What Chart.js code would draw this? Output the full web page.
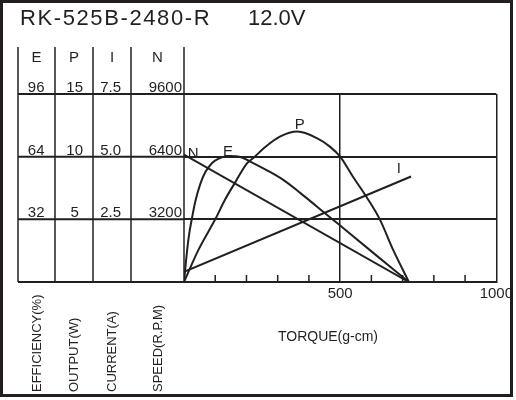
<!DOCTYPE html>
<html>
<head>
<meta charset="utf-8">
<title>RK-525B-2480-R 12.0V</title>
<script src="https://cdn.jsdelivr.net/npm/chart.js@4.4.1/dist/chart.umd.min.js"></script>
<style>
  html, body { margin: 0; padding: 0; background: #fff; }
  #wrap { position: relative; width: 516px; height: 400px; }
</style>
</head>
<body>
<div id="wrap"><canvas id="motor-chart"></canvas></div>
<script>
// Curves, torque in g-cm
const speedTorque = [0, 720];
const speedValues = [6500, 0];

const currentTorque = [0, 727];
const currentValues = [0.41, 4.21];

const outputTorque = [0, 47, 100, 132, 164, 201, 222, 264, 307, 363, 424, 467, 500, 541, 584, 627, 669, 720];
const outputValues = [0, 2.6, 5.0, 6.6, 7.95, 9.45, 9.9, 10.85, 11.6, 12.0, 11.5, 10.8, 10.0, 8.4, 6.8, 5.0, 2.6, 0];

const effTorque = [0, 6, 12, 18, 26, 36, 52, 68, 90, 111, 143, 185, 212, 266, 319, 372, 425, 478, 500, 605, 720];
const effValues = [0, 10, 19, 26, 33, 41, 50, 56, 60.8, 63, 64.3, 63.6, 61.5, 57, 52, 45.5, 38.6, 31.7, 28.8, 15, 0];

// axis ticks
const torqueTicks = [500, 1000];
const torqueMinor = [100, 200, 300, 400, 600, 700, 800, 900];
const effTicks = [0, 32, 64, 96];
const outputTicks = [0, 5, 10, 15];
const currentTicks = [0, 2.5, 5.0, 7.5];
const speedTicks = [0, 3200, 6400, 9600];

const columnHeads = ['E', 'P', 'I', 'N'];
const columnNames = ['EFFICIENCY(%)', 'OUTPUT(W)', 'CURRENT(A)', 'SPEED(R.P.M)'];

// curve labels, placed in torque / speed units
const curveLabels = [
  { text: 'N', t: 29, n: 6550 },
  { text: 'E', t: 141, n: 6660 },
  { text: 'P', t: 371, n: 8020 },
  { text: 'I', t: 688, n: 5800 }
];

const ink = '#231f20';
const family = '"Liberation Sans", Arial, sans-serif';
Chart.defaults.font.family = family;
Chart.defaults.color = ink;

function points(xs, ys) {
  return xs.map((x, i) => ({ x: x, y: ys[i] }));
}

function useTicks(list) {
  return scale => { scale.ticks = list.map(v => ({ value: v })); };
}

function yAxis(list, weight, width, pad, align, fmt) {
  return {
    type: 'linear',
    position: 'left',
    weight: weight,
    min: list[0],
    max: list[list.length - 1],
    afterBuildTicks: useTicks(list),
    afterFit: scale => { scale.width = width; },
    grid: { display: false, drawTicks: false },
    border: { display: false },
    ticks: {
      font: { size: 15 },
      color: ink,
      padding: pad,
      crossAlign: align,
      labelOffset: -6,
      autoSkip: false,
      callback: v => v === 0 ? '' : fmt(v)
    }
  };
}

function line(ctx, x1, y1, x2, y2) {
  ctx.beginPath();
  ctx.moveTo(x1, y1);
  ctx.lineTo(x2, y2);
  ctx.stroke();
}

// table, frame and captions around the plot
const sheetPlugin = {
  id: 'sheet',
  afterDraw(chart) {
    const { ctx, chartArea: area, scales } = chart;
    const cols = [scales.yE, scales.yP, scales.yI, scales.yN];
    ctx.save();
    ctx.strokeStyle = ink;
    ctx.fillStyle = ink;

    // outer frame
    ctx.lineWidth = 3;
    ctx.strokeRect(1.5, 1.5, 510, 394);

    // title
    ctx.textBaseline = 'alphabetic';
    ctx.textAlign = 'left';
    ctx.font = '22px ' + family;
    ctx.letterSpacing = '1.6px';
    ctx.fillText('RK-525B-2480-R', 20, 25);
    ctx.letterSpacing = '0px';
    ctx.fillText('12.0V', 248, 25);

    // column separators
    ctx.lineWidth = 1.5;
    const edges = [cols[0].left].concat(cols.map(s => s.right));
    edges.forEach(e => line(ctx, e, 47, e, area.bottom));

    // row lines through the table
    ctx.lineWidth = 2;
    speedTicks.forEach(v => {
      const py = scales.yN.getPixelForValue(v);
      line(ctx, cols[0].left, py, area.left, py);
    });

    // minor torque ticks
    ctx.lineWidth = 1.5;
    torqueMinor.forEach(v => {
      const px = scales.x.getPixelForValue(v);
      line(ctx, px, area.bottom, px, area.bottom - 7);
    });

    // column heads
    ctx.font = '15px ' + family;
    ctx.textAlign = 'center';
    ctx.textBaseline = 'middle';
    cols.forEach((s, i) => ctx.fillText(columnHeads[i], (s.left + s.right) / 2, 58));

    // curve labels
    curveLabels.forEach(l => {
      ctx.fillText(l.text, scales.x.getPixelForValue(l.t), scales.yN.getPixelForValue(l.n));
    });

    // torque caption
    ctx.font = '14px ' + family;
    ctx.fillText('TORQUE(g-cm)', 328, 337);

    // rotated column names
    ctx.font = '13px ' + family;
    ctx.textAlign = 'left';
    cols.forEach((s, i) => {
      ctx.save();
      ctx.translate((s.left + s.right) / 2 + 0.5, 392);
      ctx.rotate(-Math.PI / 2);
      ctx.fillText(columnNames[i], 0, 0);
      ctx.restore();
    });
    ctx.restore();
  }
};

function curve(label, xs, ys, axis, smooth) {
  return {
    label: label,
    data: points(xs, ys),
    yAxisID: axis,
    borderColor: ink,
    borderWidth: 2,
    pointRadius: 0,
    fill: false,
    cubicInterpolationMode: smooth ? 'monotone' : 'default',
    tension: 0
  };
}

function initChart() {
  const canvas = document.getElementById('motor-chart');
  const speedAxis = yAxis(speedTicks, 0, 53, 2, 'near', v => String(v));
  speedAxis.grid = { display: true, drawTicks: false, drawOnChartArea: true, color: ink, lineWidth: 2 };

  new Chart(canvas.getContext('2d'), {
    type: 'line',
    data: {
      datasets: [
        curve('N', speedTorque, speedValues, 'yN', false),
        curve('I', currentTorque, currentValues, 'yI', false),
        curve('P', outputTorque, outputValues, 'yP', true),
        curve('E', effTorque, effValues, 'yE', true)
      ]
    },
    options: {
      responsive: true,
      maintainAspectRatio: false,
      animation: false,
      layout: { padding: { left: 18, top: 94, right: 19, bottom: 0 } },
      plugins: { legend: { display: false }, tooltip: { enabled: false } },
      scales: {
        x: {
          type: 'linear',
          min: 0,
          max: 1000,
          afterBuildTicks: useTicks(torqueTicks),
          afterFit: scale => { scale.height = 118; },
          grid: { color: ink, lineWidth: 1.5, drawTicks: false },
          border: { display: true, color: ink, width: 2 },
          ticks: {
            font: { size: 15 },
            color: ink,
            padding: 3,
            maxRotation: 0,
            autoSkip: false,
            callback: v => String(v)
          }
        },
        yN: speedAxis,
        yI: yAxis(currentTicks, 1, 38, 10, 'center', v => v.toFixed(1)),
        yP: yAxis(outputTicks, 2, 38, 10, 'center', v => String(v)),
        yE: yAxis(effTicks, 3, 37, 10.5, 'center', v => String(v))
      }
    },
    plugins: [sheetPlugin]
  });
}

document.addEventListener('DOMContentLoaded', initChart);
</script>
</body>
</html>
